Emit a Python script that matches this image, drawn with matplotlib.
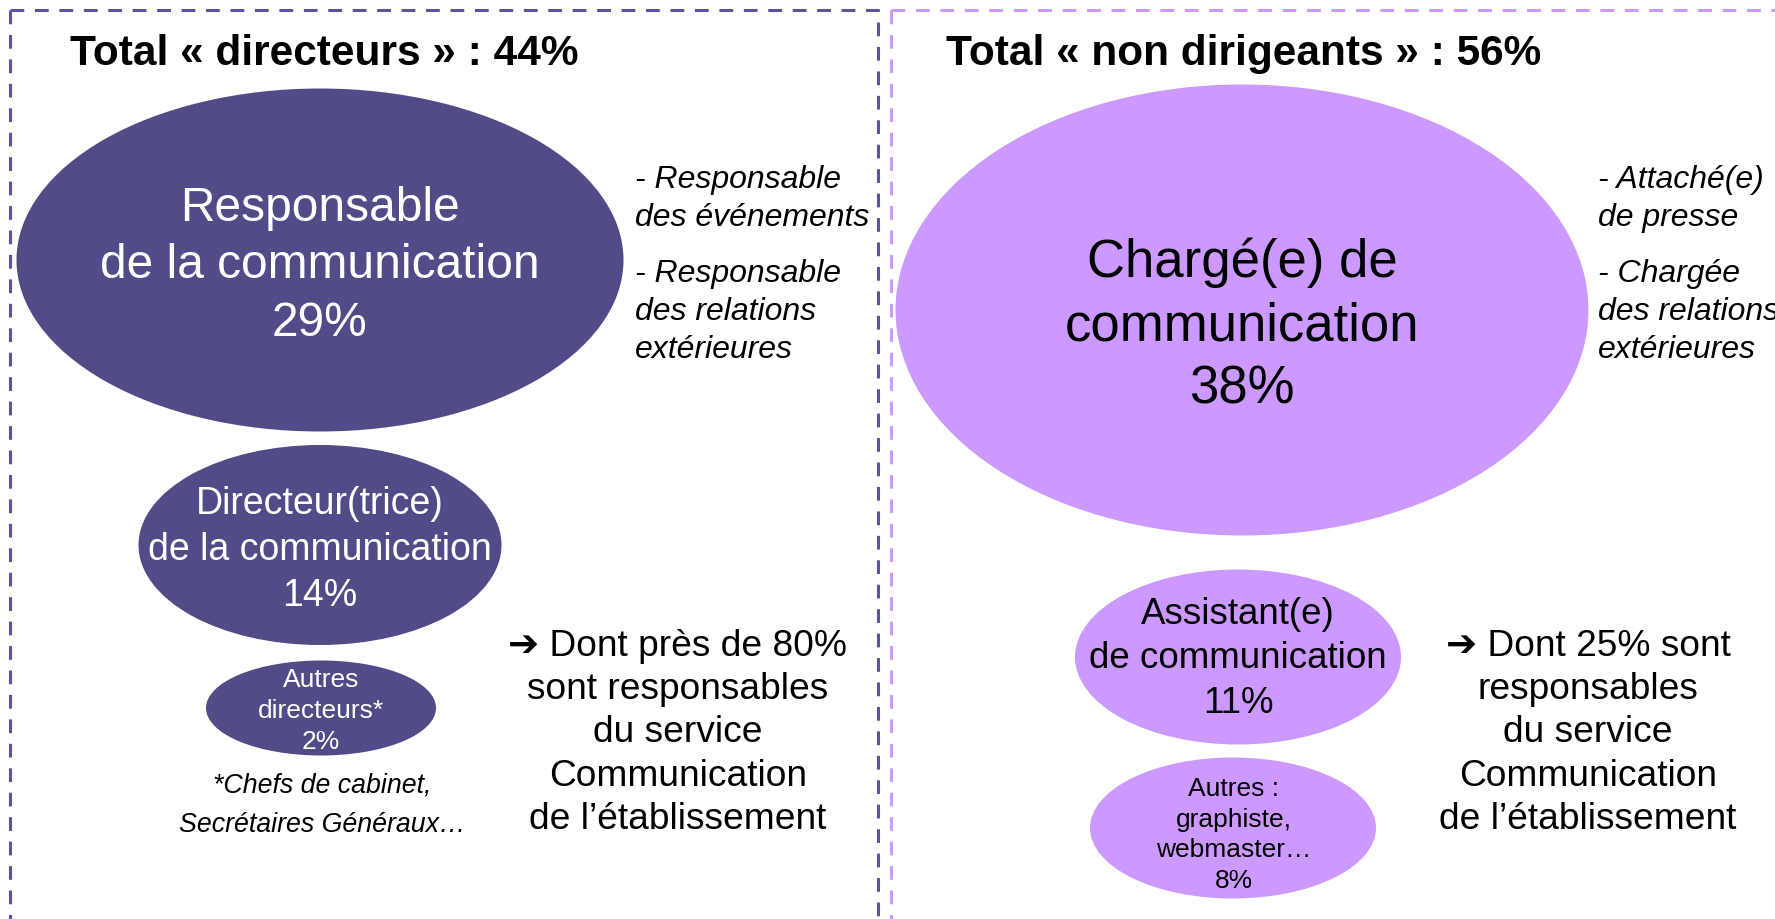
import matplotlib.pyplot as plt
from matplotlib.patches import Ellipse

# Data
titles = ["Total « directeurs » : 44%", "Total « non dirigeants » : 56%"]

roles = ["Responsable\nde la communication", "Directeur(trice)\nde la communication",
         "Autres\ndirecteurs*", "Chargé(e) de\ncommunication",
         "Assistant(e)\nde communication", "Autres :\ngraphiste,\nwebmaster…"]
shares = [29, 14, 2, 38, 11, 8]

notes_left = ["- Responsable\ndes événements", "- Responsable\ndes relations\nextérieures"]
notes_right = ["- Attaché(e)\nde presse", "- Chargée\ndes relations\nextérieures"]
footnote = "*Chefs de cabinet,\nSecrétaires Généraux…"
summary_left = "➔ Dont près de 80%\nsont responsables\ndu service\nCommunication\nde l’établissement"
summary_right = "➔ Dont 25% sont\nresponsables\ndu service\nCommunication\nde l’établissement"

# Layout (pixel coordinates, y down)
dark = "#514B87"
light = "#CC99FF"
ell_xy = [(320, 260), (320, 545), (321, 708), (1242, 310), (1238, 657), (1233, 828)]
ell_wh = [(607, 343), (363, 200), (230, 95), (693, 451), (326, 175), (286, 141)]
ell_col = [dark, dark, dark, light, light, light]
txt_xy = [(320, 266), (320, 550), (321, 711), (1242, 326), (1238, 659), (1234, 835)]
txt_col = ["white", "white", "white", "black", "black", "black"]
txt_size = [34.5, 27, 19, 38, 26.5, 19]

fam = ["Liberation Sans", "DejaVu Sans"]

fig = plt.figure(figsize=(17.75, 9.19), dpi=100)
ax = fig.add_axes([0, 0, 1, 1])
ax.set_xlim(0, 1775)
ax.set_ylim(919, 0)
ax.axis("off")

# dashed panel borders
ax.plot([10, 878, 878], [10, 10, 930], color="#5A549A", lw=2.2, dashes=(4.5, 3.5))
ax.plot([10, 10], [10, 930], color="#5A549A", lw=2.2, dashes=(4.5, 3.5))
ax.plot([891, 1780], [10, 10], color=light, lw=2.2, dashes=(4.5, 3.5))
ax.plot([891, 891], [10, 930], color=light, lw=2.2, dashes=(4.5, 3.5))

ax.text(70, 54, titles[0], fontsize=30.5, fontweight="bold", family=fam, va="center", ha="left")
ax.text(946, 54, titles[1], fontsize=30.5, fontweight="bold", family=fam, va="center", ha="left")

for i in range(len(roles)):
    ax.add_patch(Ellipse(ell_xy[i], ell_wh[i][0], ell_wh[i][1], color=ell_col[i], lw=0))
    ax.text(txt_xy[i][0], txt_xy[i][1], f"{roles[i]}\n{shares[i]}%", color=txt_col[i],
            fontsize=txt_size[i], family=fam, ha="center", va="center", linespacing=1.35)

ax.text(635, 199, notes_left[0], fontsize=23, style="italic", family=fam, va="center", ha="left", linespacing=1.35)
ax.text(635, 312, notes_left[1], fontsize=23, style="italic", family=fam, va="center", ha="left", linespacing=1.35)
ax.text(1598, 199, notes_right[0], fontsize=23, style="italic", family=fam, va="center", ha="left", linespacing=1.35)
ax.text(1598, 312, notes_right[1], fontsize=23, style="italic", family=fam, va="center", ha="left", linespacing=1.35)

ax.text(322, 805, footnote, fontsize=19.3, style="italic", family=fam, va="center", ha="center", linespacing=1.66)

ax.text(678, 733, summary_left, fontsize=26.7, family=fam, va="center", ha="center", linespacing=1.3)
ax.text(1588, 733, summary_right, fontsize=26.7, family=fam, va="center", ha="center", linespacing=1.3)

fig.savefig("out.png", dpi=100)
